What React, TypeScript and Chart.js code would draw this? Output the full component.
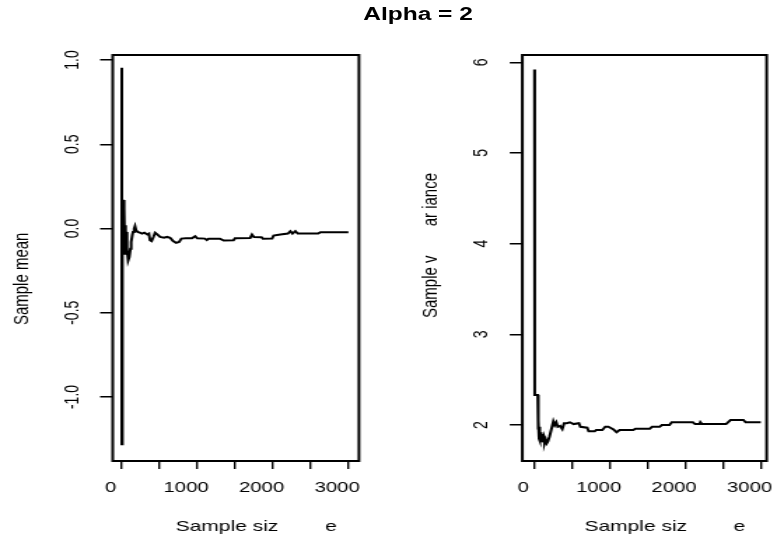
import React, { useEffect, useRef } from 'react';
import { Chart, registerables } from 'chart.js';

Chart.register(...registerables);

const FONT = "'Liberation Sans', Arial, Helvetica, sans-serif";

const mainTitle = 'Alpha = 2';
const xTitle = '       Sample siz        e';
const meanTitle = 'Sample mean          ';
const varTitle = '      Sample v       ar iance';

const sampleSizeTicks = [0, 500, 1000, 1500, 2000, 2500, 3000];
const sizeLabels = [0, 1000, 2000, 3000];

const meanN = [
  1, 2, 4, 8, 15, 22, 28, 35, 42, 48, 55, 60, 70, 85, 100, 115, 125, 140, 150, 165,
  176, 190, 210, 240, 270, 300, 340, 360, 375, 395, 420, 442, 470, 508, 560, 600, 641, 680, 720, 760,
  790, 850, 930, 972, 1000, 1100, 1127, 1150, 1300, 1350, 1480, 1500, 1700, 1724, 1750, 1850, 1870, 1990, 2010, 2100,
  2200, 2232, 2260, 2298, 2330, 2600, 2630, 3000,
];
const meanValues = [
  0.955, -1.28, -0.3, 0.1, 0.0, 0.17, -0.05, 0.12, -0.15, 0.02, -0.08, -0.02, -0.12, -0.19, -0.17, -0.12, -0.08, -0.04, -0.02, 0.0,
  0.014, -0.01, -0.02, -0.025, -0.03, -0.025, -0.035, -0.03, -0.07, -0.075, -0.05, -0.025, -0.035, -0.05, -0.055, -0.05, -0.055, -0.075, -0.085, -0.08,
  -0.06, -0.058, -0.058, -0.046, -0.058, -0.06, -0.068, -0.06, -0.06, -0.071, -0.07, -0.058, -0.056, -0.036, -0.05, -0.052, -0.061, -0.06, -0.042, -0.035,
  -0.03, -0.016, -0.03, -0.016, -0.03, -0.03, -0.022, -0.022,
];
const meanTickValues = [-1.0, -0.5, 0.0, 0.5, 1.0];

const varN = [
  2, 5, 45, 48, 52, 56, 62, 68, 75, 82, 90, 100, 110, 125, 135, 150, 165, 180, 200, 225,
  252, 270, 290, 310, 340, 370, 395, 430, 470, 520, 590, 610, 700, 720, 800, 820, 900, 940, 980, 1050,
  1090, 1130, 1310, 1340, 1530, 1560, 1660, 1690, 1790, 1820, 2100, 2130, 2190, 2200, 2220, 2540, 2600, 2770, 2800, 3000,
];
const varValues = [
  5.92, 2.33, 2.33, 2.07, 1.95, 2.05, 1.85, 1.98, 1.83, 1.92, 1.84, 1.9, 1.81, 1.86, 1.8, 1.84, 1.8, 1.82, 1.87, 1.95,
  2.04, 2.0, 2.03, 1.98, 1.99, 1.955, 2.02, 2.02, 2.03, 2.01, 2.02, 1.98, 1.97, 1.93, 1.93, 1.945, 1.945, 1.98, 1.98, 1.95,
  1.92, 1.945, 1.945, 1.96, 1.96, 1.98, 1.98, 2.0, 2.0, 2.03, 2.03, 2.01, 2.01, 2.03, 2.01, 2.01, 2.055, 2.055, 2.03, 2.03,
];
const varTickValues = [2, 3, 4, 5, 6];

const STRETCH = 1.4;
const LOGICAL_W = 772 / STRETCH;

const boxPlugin = {
  id: 'rbox',
  afterDatasetsDraw(chart: any) {
    const { ctx, chartArea: a } = chart;
    ctx.save();
    ctx.strokeStyle = '#000';
    ctx.lineWidth = 2;
    ctx.strokeRect(a.left, a.top, a.right - a.left, a.bottom - a.top);
    ctx.restore();
  },
};

type PanelProps = {
  n: number[];
  values: number[];
  yTicks: number[];
  yDecimals: number;
  xMin: number;
  xMax: number;
  yMin: number;
  yMax: number;
  yAxisWidth: number;
  yTickPad: number;
  yTitle: string;
  yTitlePad: number;
  padRight: number;
  left: number;
  width: number;
};

function Panel(p: PanelProps) {
  const ref = useRef<HTMLCanvasElement | null>(null);
  useEffect(() => {
    if (!ref.current) return;
    const data = p.n.map((x, i) => ({ x, y: p.values[i] }));
    const chart = new Chart(ref.current, {
      type: 'line',
      data: {
        datasets: [
          {
            data,
            borderColor: '#000',
            borderWidth: 2,
            pointRadius: 0,
            tension: 0,
            fill: false,
          },
        ],
      },
      options: {
        animation: false,
        responsive: false,
        maintainAspectRatio: false,
        layout: { padding: { top: 55, left: 0, right: p.padRight, bottom: 0 } },
        plugins: { legend: { display: false }, tooltip: { enabled: false }, title: { display: false } },
        scales: {
          x: {
            type: 'linear',
            min: p.xMin,
            max: p.xMax,
            afterBuildTicks: (s: any) => {
              s.ticks = sampleSizeTicks.map((v) => ({ value: v }));
            },
            afterFit: (s: any) => {
              s.height = 76;
              s.paddingLeft = 0;
              s.paddingRight = 0;
            },
            grid: { drawOnChartArea: false, drawTicks: true, tickLength: 8, color: '#000', lineWidth: 1.4 },
            border: { display: false },
            ticks: {
              autoSkip: false,
              minRotation: 0,
              maxRotation: 0,
              padding: 10.5,
              labelOffset: -8,
              color: '#000',
              font: { family: FONT, size: 14.5 },
              callback: (v: any) => (sizeLabels.includes(Math.round(Number(v))) ? String(Math.round(Number(v))) : ''),
            },
            title: {
              display: true,
              text: xTitle,
              color: '#000',
              font: { family: FONT, size: 15 },
              padding: { top: 0, bottom: 1.5 },
            },
          },
          y: {
            type: 'linear',
            min: p.yMin,
            max: p.yMax,
            afterBuildTicks: (s: any) => {
              s.ticks = p.yTicks.map((v) => ({ value: v }));
            },
            afterFit: (s: any) => {
              s.width = p.yAxisWidth;
              s.paddingTop = 0;
              s.paddingBottom = 0;
            },
            grid: { drawOnChartArea: false, drawTicks: true, tickLength: 9, color: '#000', lineWidth: 1.5 },
            border: { display: false },
            ticks: {
              autoSkip: false,
              minRotation: 90,
              maxRotation: 90,
              crossAlign: 'center',
              padding: p.yTickPad,
              color: '#000',
              font: { family: FONT, size: 14 },
              callback: (v: any) => Number(v).toFixed(p.yDecimals),
            },
            title: {
              display: true,
              text: p.yTitle,
              color: '#000',
              font: { family: FONT, size: 15 },
              padding: { top: p.yTitlePad, bottom: 0 },
            },
          },
        },
      } as any,
      plugins: [boxPlugin],
    });
    return () => chart.destroy();
  }, []);
  return (
    <canvas
      ref={ref}
      width={p.width}
      height={537}
      style={{ position: 'absolute', left: p.left, top: 0, width: p.width, height: 537, display: 'block' }}
    />
  );
}

export default function App() {
  return (
    <div style={{ position: 'fixed', left: 0, top: 0, width: 772, height: 537, overflow: 'hidden', background: '#fff' }}>
      <div
        style={{
          position: 'absolute',
          left: 0,
          top: 0,
          width: LOGICAL_W,
          height: 537,
          transform: `scaleX(${STRETCH})`,
          transformOrigin: '0 0',
        }}
      >
        <div
          style={{
            position: 'absolute',
            left: 198.6,
            top: 4.4,
            width: 200,
            textAlign: 'center',
            fontFamily: FONT,
            fontWeight: 'bold',
            fontSize: 17.5,
            lineHeight: '20px',
            color: '#000',
            whiteSpace: 'pre',
          }}
        >
          {mainTitle}
        </div>
        <Panel
          n={meanN}
          values={meanValues}
          yTicks={meanTickValues}
          yDecimals={1}
          xMin={-119}
          xMax={3140}
          yMin={-1.38}
          yMax={1.03}
          yAxisWidth={80.5}
          yTickPad={7.5}
          yTitle={meanTitle}
          yTitlePad={7}
          padRight={19.6}
          left={0}
          width={276}
        />
        <Panel
          n={varN}
          values={varValues}
          yTicks={varTickValues}
          yDecimals={0}
          xMin={-159}
          xMax={3078}
          yMin={1.603}
          yMax={6.08}
          yAxisWidth={97.1}
          yTickPad={15.9}
          yTitle={varTitle}
          yTitlePad={22.9}
          padRight={3.4}
          left={276}
          width={275.4}
        />
      </div>
    </div>
  );
}
